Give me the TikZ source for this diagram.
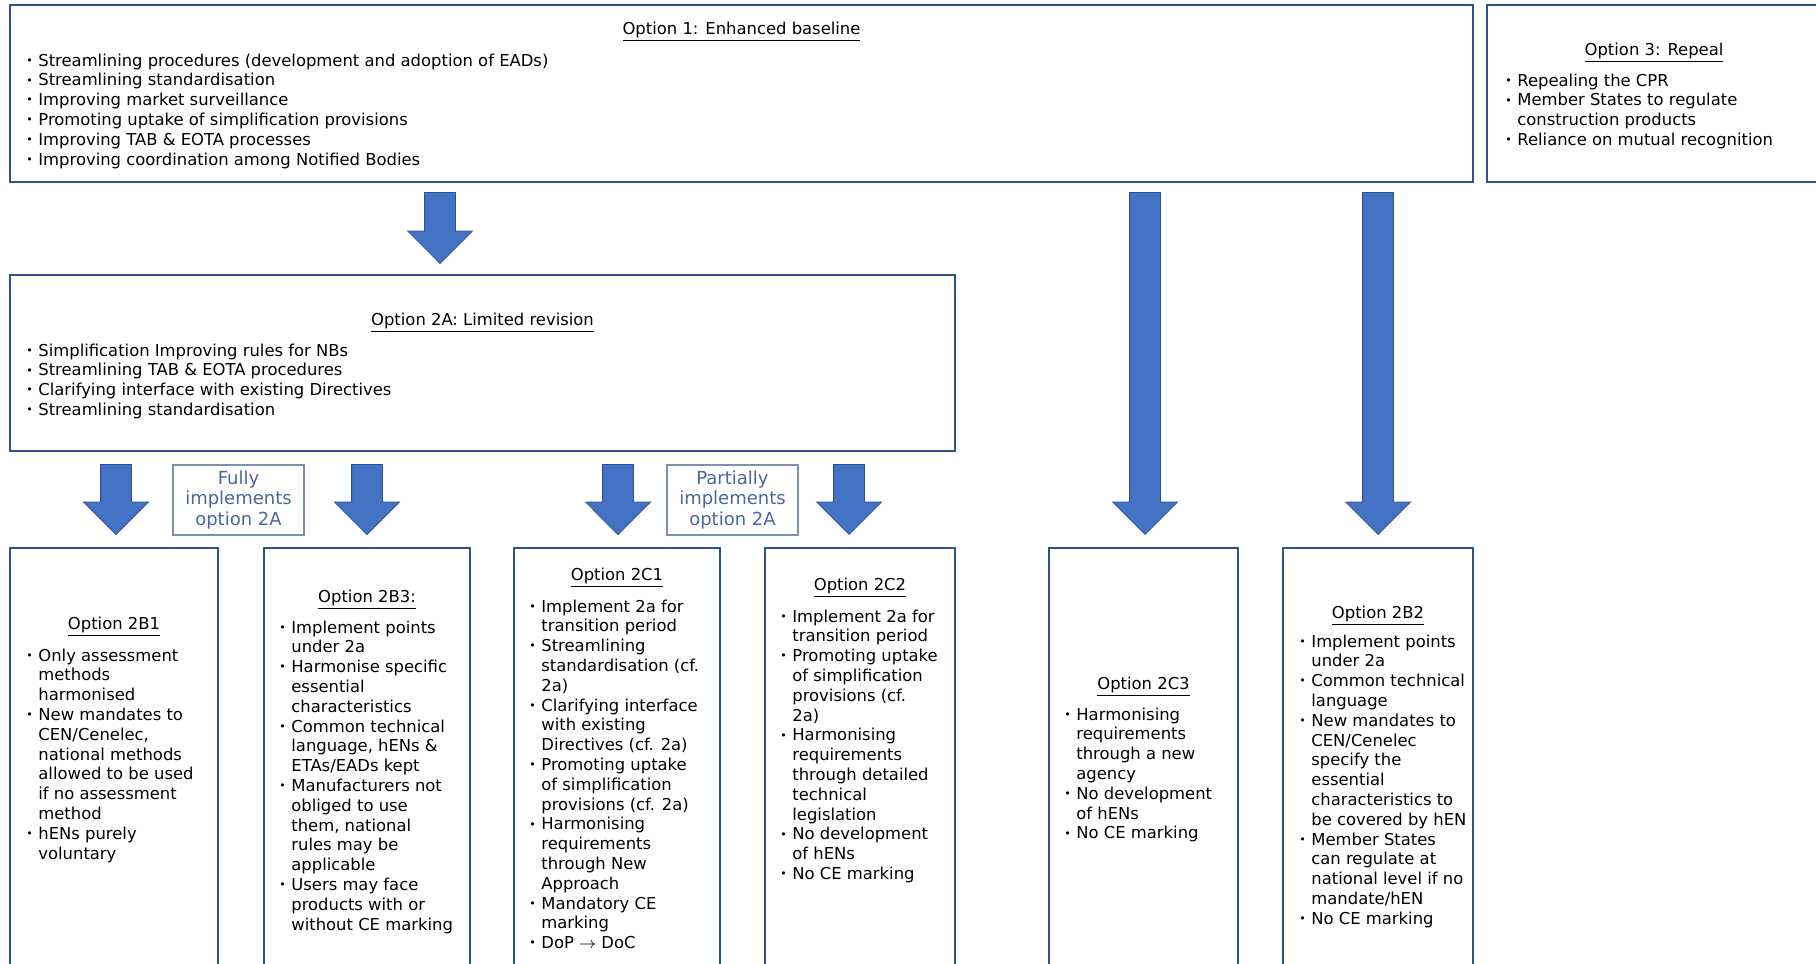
\documentclass[tikz,border=0pt]{standalone}
\usepackage{fontspec}
\setmainfont{DejaVu Sans}
\usepackage{xcolor}
\usetikzlibrary{positioning,shapes,arrows}

\definecolor{boxline}{HTML}{2F528F}
\definecolor{arrowblue}{HTML}{4472C4}
\definecolor{labelblue}{HTML}{4A66A0}
\definecolor{labelline}{HTML}{8090A8}

\newcommand\boxfont{\fontsize{8.2}{9.9}\selectfont}
\newcommand\bul{\makebox[6pt][l]{\raisebox{0.9pt}{\fontsize{5.5}{5}\selectfont\textbullet}}}
\newcommand\optlist[1]{\begin{tabular}[t]{@{}l@{}l@{}}#1\end{tabular}}

\begin{document}
\begin{tikzpicture}
            [x=0.5pt,y=-0.5pt,every node/.style={font=\boxfont, inner sep=0pt},
             optbox/.style={draw=boxline, line width=1.2pt, fill=white},
             heading/.style={anchor=base},
             itemlist/.style={anchor=base west},
             blockarrow/.style={single arrow, draw=boxline, line width=0.4pt, fill=arrowblue, shape border rotate=270,
               inner sep=7.5pt, single arrow head extend=8.5pt, single arrow tip angle=90, anchor=tip},
             implbox/.style={draw=labelline, line width=0.6pt, text=labelblue, align=center,
               minimum width=65.5pt, minimum height=35pt, font=\fontsize{9}{10.4}\selectfont}]
            \useasboundingbox (0,0) rectangle (1816,964);
            \clip (0,0) rectangle (1816,964);

            % boxes
            \node[optbox, minimum width=731.5pt, minimum height=88.5pt] (opt1) at (741.5,93.5) {};
            \node[optbox, minimum width=176.5pt, minimum height=88.5pt] (opt3) at (1663.5,93.5) {};
            \node[optbox, minimum width=472.5pt, minimum height=88pt] (opt2a) at (482.5,363) {};
            \node[optbox, minimum width=104pt, minimum height=246pt] (b1) at (114,794) {};
            \node[optbox, minimum width=103pt, minimum height=246pt] (b3) at (367,794) {};
            \node[optbox, minimum width=103pt, minimum height=246pt] (c1) at (617,794) {};
            \node[optbox, minimum width=95pt, minimum height=246pt] (c2) at (860,794) {};
            \node[optbox, minimum width=94.5pt, minimum height=246pt] (c3) at (1143.5,794) {};
            \node[optbox, minimum width=95pt, minimum height=246pt] (b2) at (1378,794) {};

            % option 1
            \node[heading] (h1) at (741.5,34) {\underline{Option 1: Enhanced baseline}};
            \node[itemlist] (l1) at (26,66) {\optlist{
              \bul & Streamlining procedures (development and adoption of EADs)\\
              \bul & Streamlining standardisation\\
              \bul & Improving market surveillance\\
              \bul & Promoting uptake of simplification provisions\\
              \bul & Improving TAB \& EOTA processes\\
              \bul & Improving coordination among Notified Bodies}};

            % option 3
            \node[heading] (h3) at (1654,55) {\underline{Option 3: Repeal}};
            \node[itemlist] (l3) at (1505,86) {\optlist{
              \bul & Repealing the CPR\\
              \bul & Member States to regulate\\
                   & construction products\\
              \bul & Reliance on mutual recognition}};

            % option 2a
            \node[heading] (h2a) at (482.5,325) {\underline{Option 2A: Limited revision}};
            \node[itemlist] (l2a) at (26,356) {\optlist{
              \bul & Simplification Improving rules for NBs\\
              \bul & Streamlining TAB \& EOTA procedures\\
              \bul & Clarifying interface with existing Directives\\
              \bul & Streamlining standardisation}};

            % option 2b1
            \node[heading] (hb1) at (114,629) {\underline{Option 2B1}};
            \node[itemlist] (lb1) at (26,661) {\optlist{
              \bul & Only assessment\\
                   & methods\\
                   & harmonised\\
              \bul & New mandates to\\
                   & CEN/Cenelec,\\
                   & national methods\\
                   & allowed to be used\\
                   & if no assessment\\
                   & method\\
              \bul & hENs purely\\
                   & voluntary}};

            % option 2b3
            \node[heading] (hb3) at (367,602) {\underline{Option 2B3:}};
            \node[itemlist] (lb3) at (279,633) {\optlist{
              \bul & Implement points\\
                   & under 2a\\
              \bul & Harmonise specific\\
                   & essential\\
                   & characteristics\\
              \bul & Common technical\\
                   & language, hENs \&\\
                   & ETAs/EADs kept\\
              \bul & Manufacturers not\\
                   & obliged to use\\
                   & them, national\\
                   & rules may be\\
                   & applicable\\
              \bul & Users may face\\
                   & products with or\\
                   & without CE marking}};

            % option 2c1
            \node[heading] (hc1) at (617,580) {\underline{Option 2C1}};
            \node[itemlist] (lc1) at (529,612) {\optlist{
              \bul & Implement 2a for\\
                   & transition period\\
              \bul & Streamlining\\
                   & standardisation (cf.\\
                   & 2a)\\
              \bul & Clarifying interface\\
                   & with existing\\
                   & Directives (cf. 2a)\\
              \bul & Promoting uptake\\
                   & of simplification\\
                   & provisions (cf. 2a)\\
              \bul & Harmonising\\
                   & requirements\\
                   & through New\\
                   & Approach\\
              \bul & Mandatory CE\\
                   & marking\\
              \bul & DoP $\rightarrow$ DoC}};

            % option 2c2
            \node[heading] (hc2) at (860,590) {\underline{Option 2C2}};
            \node[itemlist] (lc2) at (780,622) {\optlist{
              \bul & Implement 2a for\\
                   & transition period\\
              \bul & Promoting uptake\\
                   & of simplification\\
                   & provisions (cf.\\
                   & 2a)\\
              \bul & Harmonising\\
                   & requirements\\
                   & through detailed\\
                   & technical\\
                   & legislation\\
              \bul & No development\\
                   & of hENs\\
              \bul & No CE marking}};

            % option 2c3
            \node[heading] (hc3) at (1143.5,689) {\underline{Option 2C3}};
            \node[itemlist] (lc3) at (1064,720) {\optlist{
              \bul & Harmonising\\
                   & requirements\\
                   & through a new\\
                   & agency\\
              \bul & No development\\
                   & of hENs\\
              \bul & No CE marking}};

            % option 2b2
            \node[heading] (hb2) at (1378,618) {\underline{Option 2B2}};
            \node[itemlist] (lb2) at (1299,647) {\optlist{
              \bul & Implement points\\
                   & under 2a\\
              \bul & Common technical\\
                   & language\\
              \bul & New mandates to\\
                   & CEN/Cenelec\\
                   & specify the\\
                   & essential\\
                   & characteristics to\\
                   & be covered by hEN\\
              \bul & Member States\\
                   & can regulate at\\
                   & national level if no\\
                   & mandate/hEN\\
              \bul & No CE marking}};

            % labels between the arrows
            \node[implbox] (fully) at (238.5,500) {Fully\\implements\\option 2A};
            \node[implbox] (partly) at (732.5,500) {Partially\\implements\\option 2A};

            % arrows
            \node[blockarrow, minimum height=35.5pt] (ar1) at (440,264) {};
            \node[blockarrow, minimum height=171pt] (ar2c3) at (1145,535) {};
            \node[blockarrow, minimum height=171pt] (ar2b2) at (1378,535) {};
            \foreach \name/\xpos in {ar2b1/116, ar2b3/367, ar2c1/618, ar2c2/849}
            \node[blockarrow, minimum height=35pt] (\name) at (\xpos,535) {};
          \end{tikzpicture}
\end{document}
